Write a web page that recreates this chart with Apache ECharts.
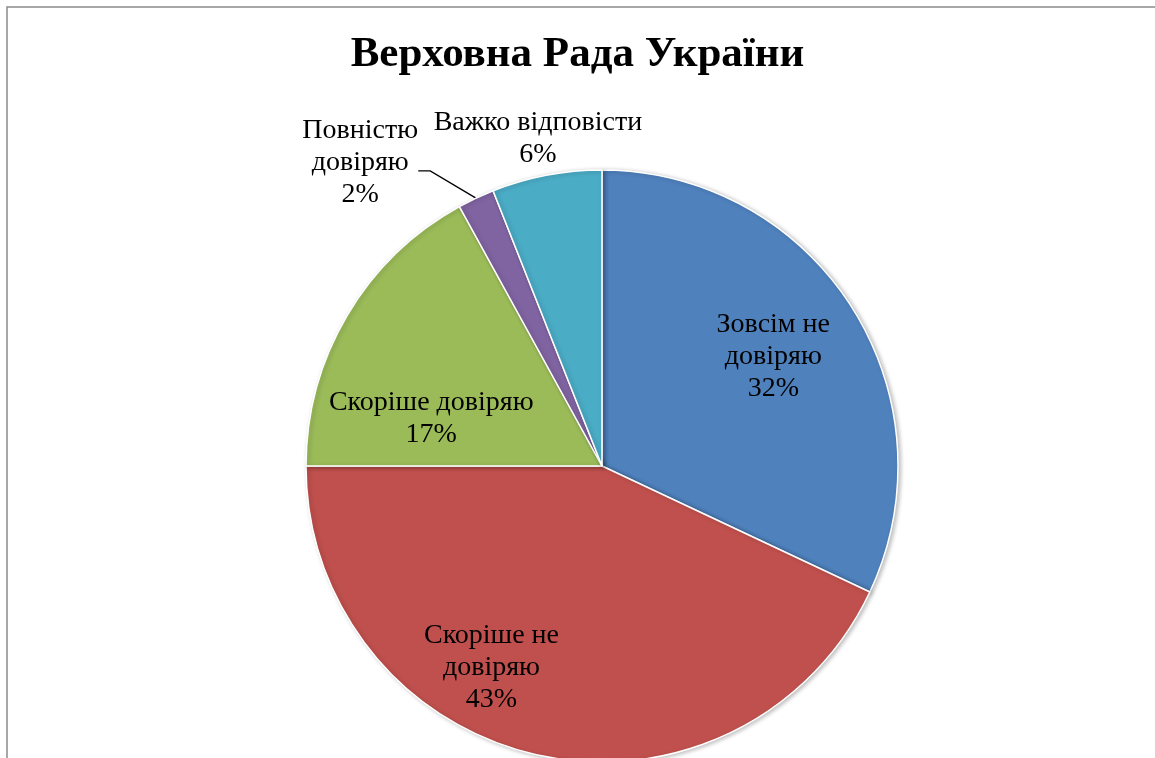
<!DOCTYPE html>
<html>
<head>
<meta charset="utf-8">
<script src="https://cdn.jsdelivr.net/npm/echarts@6/dist/echarts.min.js"></script>
<style>
html,body{margin:0;padding:0;background:#fff;}
#chart{width:1155px;height:758px;}
</style>
</head>
<body>
<div id="chart"></div>
<script>
const titleText = 'Верховна Рада України';
const categories = ['Зовсім не довіряю', 'Скоріше не довіряю', 'Скоріше довіряю', 'Повністю довіряю', 'Важко відповісти'];
const labelNames = ['Зовсім не\nдовіряю', 'Скоріше не\nдовіряю', 'Скоріше довіряю', 'Повністю\nдовіряю', 'Важко відповісти'];
const values = [32, 43, 17, 2, 6];
const colors = ['#4F81BD', '#C0504D', '#9BBB59', '#8064A2', '#4BACC6'];

// label placement (angle from 12 o'clock clockwise in degrees, distance as fraction of radius)
const labelPolar = [[57, 0.69], [209, 0.77], [286, 0.6], [321.6, 1.315], [349, 1.135]];
const CX = 602, CY = 466, R = 296;
const FONT = '"Liberation Serif", "Times New Roman", serif';

const total = values.reduce((a, b) => a + b, 0);
function polar(angDeg, dist) {
  const a = angDeg * Math.PI / 180;
  return [CX + dist * Math.sin(a), CY - dist * Math.cos(a)];
}
function midAngle(i) {
  let c = 0;
  for (let k = 0; k < i; k++) c += values[k];
  return (c + values[i] / 2) / total * 360;
}

const data = categories.map((name, i) => {
  const outside = labelPolar[i][1] > 1;
  return {
    name: name,
    value: values[i],
    itemStyle: { color: colors[i] },
    label: { position: outside ? 'outside' : 'inside' },
    labelLine: { show: i === 3 }
  };
});

const chart = echarts.init(document.getElementById('chart'), null, { renderer: 'canvas' });
chart.setOption({
  backgroundColor: '#ffffff',
  animation: false,
  title: {
    text: titleText,
    left: 'center',
    top: 28,
    textStyle: { fontFamily: FONT, fontSize: 43, fontWeight: 'bold', color: '#000' }
  },
  graphic: [{
    type: 'rect',
    shape: { x: 7, y: 7, width: 1200, height: 800 },
    style: { fill: 'none', stroke: '#8a8a8a', lineWidth: 1.5 },
    silent: true
  }],
  series: [{
    type: 'pie',
    center: [CX, CY],
    radius: R,
    startAngle: 90,
    clockwise: true,
    avoidLabelOverlap: false,
    data: data,
    itemStyle: {
      borderColor: '#ffffff',
      borderWidth: 1.5,
      shadowBlur: 4,
      shadowColor: 'rgba(0,0,0,0.25)',
      shadowOffsetX: 2,
      shadowOffsetY: 1
    },
    label: {
      show: true,
      color: '#000',
      fontFamily: FONT,
      fontSize: 28,
      lineHeight: 32,
      align: 'center',
      formatter: p => labelNames[p.dataIndex] + '\n' + Math.round(p.percent) + '%'
    },
    labelLine: {
      show: false,
      lineStyle: { color: '#000', width: 1.3 }
    },
    labelLayout: function (params) {
      const i = params.dataIndex;
      const pos = polar(labelPolar[i][0], labelPolar[i][1] * R);
      pos[1] += 2;
      const res = { x: pos[0], y: pos[1], align: 'center', verticalAlign: 'middle' };
      if (i === 3) {
        const edge = polar(midAngle(i), R);
        const end = [pos[0] + 58, pos[1] + 8];
        res.labelLinePoints = [edge, [end[0] + 12, end[1]], end];
      }
      return res;
    }
  }]
});
</script>
</body>
</html>
